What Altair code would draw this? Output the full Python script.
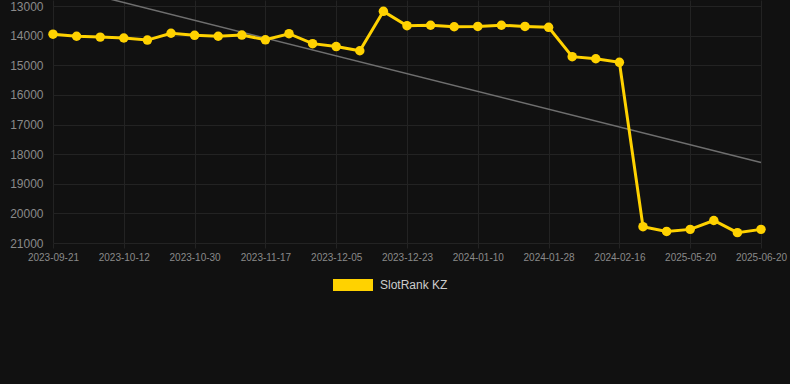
import altair as alt
import numpy as np
import pandas as pd

dates = [
    "2023-09-21", "2023-09-28", "2023-10-05", "2023-10-12", "2023-10-18", "2023-10-24",
    "2023-10-30", "2023-11-05", "2023-11-11", "2023-11-17", "2023-11-23", "2023-11-29",
    "2023-12-05", "2023-12-11", "2023-12-17", "2023-12-23", "2023-12-29", "2024-01-04",
    "2024-01-10", "2024-01-16", "2024-01-22", "2024-01-28", "2024-02-03", "2024-02-10",
    "2024-02-16", "2025-04-30", "2025-05-10", "2025-05-20", "2025-05-30", "2025-06-10",
    "2025-06-20",
]
ranks = [
    13950, 14020, 14050, 14080, 14150, 13920, 13990, 14020, 13980, 14140, 13935, 14270,
    14370, 14510, 13180, 13665, 13650, 13700, 13690, 13650, 13690, 13720, 14710, 14780,
    14900, 20450, 20610, 20540, 20240, 20650, 20540,
]
tick_dates = dates[::3]
y_ticks = [13000, 14000, 15000, 16000, 17000, 18000, 19000, 20000, 21000]
series_name = "SlotRank KZ"

df = pd.DataFrame({"date": dates, "rank": ranks, "series": series_name})

idx = np.arange(len(ranks))
slope, intercept = np.polyfit(idx, np.array(ranks, dtype=float), 1)
trend = pd.DataFrame({
    "date": [dates[0], dates[-1]],
    "rank": [intercept, intercept + slope * (len(ranks) - 1)],
})

YELLOW = "#FFD200"
GRID = "#232323"

x_enc = alt.X(
    "date:O",
    sort=dates,
    scale=alt.Scale(type="point", range=[8, 716], padding=0),
    axis=alt.Axis(
        values=tick_dates, labelAngle=0, labelFontSize=10, labelColor="#8a8a8a",
        labelFont="Liberation Sans", grid=True, gridColor=GRID, domain=False,
        tickColor=GRID, tickSize=5, labelPadding=4, title=None,
    ),
)
y_enc = alt.Y(
    "rank:Q",
    scale=alt.Scale(domain=[12797, 21000], reverse=True, nice=False, zero=False),
    axis=alt.Axis(
        values=y_ticks, format="d", labelFontSize=12, labelColor="#8a8a8a",
        labelFont="Liberation Sans", grid=True, gridColor=GRID, domain=False,
        ticks=False, labelPadding=2, title=None,
    ),
)

trend_layer = alt.Chart(trend).mark_line(color="#6f6f6f", strokeWidth=1.5, clip=True).encode(
    x=x_enc, y=y_enc
)

color_enc = alt.Color(
    "series:N",
    scale=alt.Scale(domain=[series_name], range=[YELLOW]),
    legend=alt.Legend(
        title=None, orient="none", legendX=288, legendY=265,
        symbolType="M-1,-0.3H1V0.3H-1Z", symbolSize=1600, symbolStrokeWidth=0,
        symbolFillColor=YELLOW, labelColor="#cccccc", labelFontSize=12,
        labelFont="Liberation Sans", labelOffset=7,
    ),
)

line_layer = alt.Chart(df).mark_line(strokeWidth=3).encode(
    x=x_enc, y=y_enc, color=color_enc
)
point_layer = alt.Chart(df).mark_point(filled=True, size=90, opacity=1).encode(
    x=x_enc, y=y_enc, color=alt.Color("series:N", scale=alt.Scale(domain=[series_name], range=[YELLOW]), legend=None)
)

chart = alt.layer(trend_layer, line_layer, point_layer).properties(
    width=745, height=243,
    autosize=alt.AutoSizeParams(type="none"),
    padding={"left": 45, "top": 0, "right": 0, "bottom": 141},
    background="#111111",
).configure_view(stroke=None)

chart.save("out.html", embed_options={"renderer": "svg", "actions": False})
